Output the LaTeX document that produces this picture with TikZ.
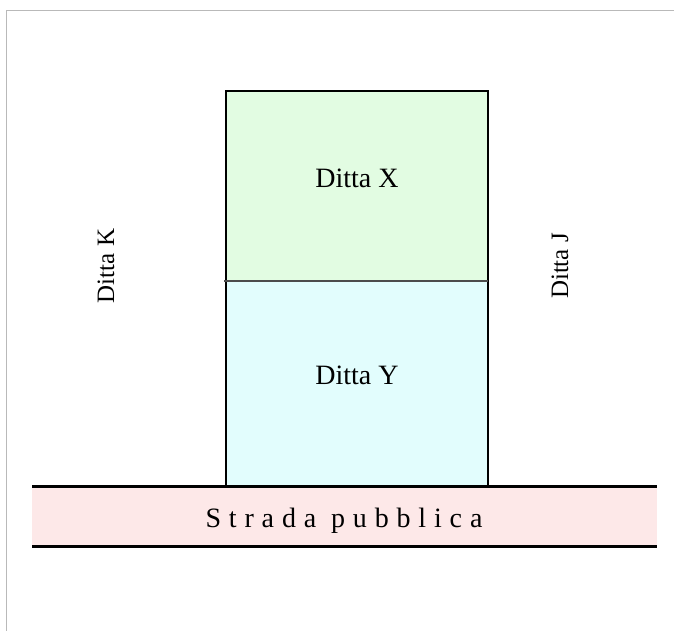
\documentclass[tikz,border=0pt]{standalone}
\usepackage{fontspec}
\setmainfont{Liberation Serif}
\definecolor{lotX}{RGB}{226,252,226}
\definecolor{lotY}{RGB}{226,253,253}
\definecolor{road}{RGB}{253,232,232}
\definecolor{frame}{RGB}{185,185,185}
\tikzset{
  lot/.style={draw=black,line width=2.4pt},
  roadline/.style={draw=black,line width=3pt},
  biglabel/.style={font=\fontsize{28}{30}\selectfont,inner sep=0pt},
  sidelabel/.style={font=\fontsize{25}{28}\selectfont,inner sep=0pt,rotate=90},
  roadlabel/.style={font=\fontsize{28}{30}\selectfont\addfontfeature{LetterSpace=28},inner sep=0pt},
}
\begin{document}
\begin{tikzpicture}[x=1pt,y=-1pt]
\useasboundingbox (0,0) rectangle (674,631);
% page frame lines
\draw[frame,line width=1pt] (6,631) -- (6,11) -- (674,11);
% lots
\fill[lotX] (226,91) rectangle (488,281);
\fill[lotY] (226,281) rectangle (488,485);
\draw[lot] (226,485) -- (226,91) -- (488,91) -- (488,485);
\draw[gray!60!black,line width=1.3pt] (224,281) -- (488,281);
% road
\fill[road] (32,486) rectangle (657,546);
\draw[roadline] (32,486) -- (657,486);
\draw[roadline] (32,546) -- (657,546);
% labels
\node[biglabel] (X) at (357,178) {Ditta X};
\node[biglabel] (Y) at (357,375) {Ditta Y};
\node[sidelabel] (K) at (106,266) {Ditta K};
\node[sidelabel] (J) at (560,266) {Ditta J};
\node[roadlabel] (S) at (344,521) {Strada pubblica};
\end{tikzpicture}
\end{document}
